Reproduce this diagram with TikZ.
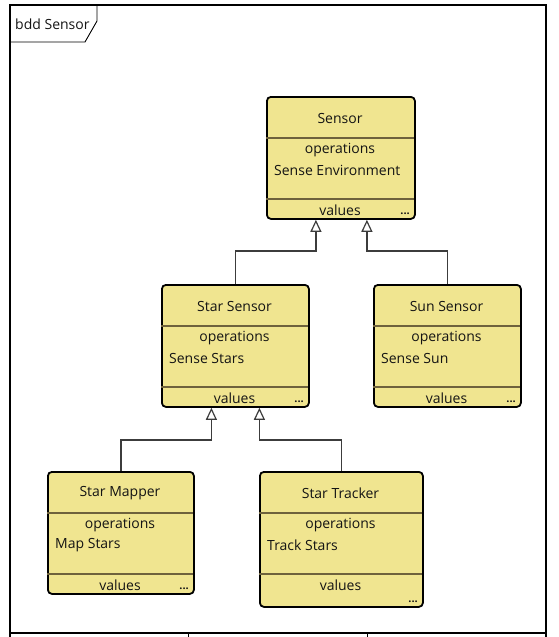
\documentclass[tikz,border=0pt]{standalone}
\usepackage{fontspec}
\setmainfont{Open Sans}
\usetikzlibrary{arrows.meta,calc}
\definecolor{blockfill}{RGB}{240,229,144}
\definecolor{sepcol}{RGB}{110,98,60}
\definecolor{linecol}{RGB}{60,60,60}
\definecolor{txtcol}{RGB}{20,20,20}
\tikzset{
  block/.style={draw=black, fill=blockfill, line width=1.8pt, rounded corners=4pt, anchor=north west, inner sep=0pt},
  sepline/.style={draw=sepcol, line width=1.3pt},
  lbl/.style={font=\fontsize{14}{16}\selectfont, text=txtcol, inner sep=0pt},
  dotsty/.style={font=\fontsize{11}{12}\selectfont\bfseries, text=txtcol, inner sep=0pt, anchor=south east},
  gen/.style={draw=linecol, line width=1.2pt, -{Triangle[open, width=11pt, length=12pt, fill=white]}},
  frameline/.style={draw=black, line width=2pt},
}
\newcommand{\umlblock}[7]{%
  \node[block, minimum width=#4pt, minimum height=#5pt] (#1) at (#2,#3) {};
  \node[lbl] (#1-t) at (#2+#4/2, #3+22) {#6};
  \draw[sepline] (#2,#3+42) -- (#2+#4,#3+42);
  \node[lbl] (#1-o) at (#2+#4/2, #3+54) {operations};
  \node[lbl, anchor=west] (#1-i) at (#2+8, #3+74) {#7};
  \draw[sepline] (#2,#3+103) -- (#2+#4,#3+103);
  \node[lbl] (#1-v) at (#2+#4/2, #3+114) {values};
  \node[dotsty] (#1-d) at (#2+#4-4, #3+#5-3) {...};
}
\begin{document}
\begin{tikzpicture}[x=1pt,y=-1pt]
\useasboundingbox (0,0) rectangle (558,637);
% frame
\draw[frameline] (10,637) -- (10,5) -- (546,5) -- (546,637);
\draw[frameline] (10,633) -- (546,633);
\draw[draw=black, line width=1pt] (188,633) -- (188,637) (367,633) -- (367,637);
% tab
\draw[draw=black, line width=0.9pt] (10,42) -- (85,42) -- (97,21) -- (97,5);
\node[lbl, anchor=west] (tab) at (15,24) {bdd Sensor};
% blocks
\umlblock{sensor}{266}{96}{148}{122}{Sensor}{Sense Environment}
\umlblock{starsensor}{161}{284}{147}{122}{Star Sensor}{Sense Stars}
\umlblock{sunsensor}{373}{284}{147}{122}{Sun Sensor}{Sense Sun}
\umlblock{starmapper}{47}{471}{146}{122}{Star Mapper}{Map Stars}
\umlblock{startracker}{259}{471}{163}{135}{Star Tracker}{Track Stars}
% generalizations
\draw[gen] (starsensor.north) -- ++(0,-33) -| ($(sensor.south)+(-25,0)$);
\draw[gen] (sunsensor.north) -- ++(0,-33) -| ($(sensor.south)+(26,0)$);
\draw[gen] (starmapper.north) -- ++(0,-31) -| ($(starsensor.south)+(-24,0)$);
\draw[gen] (startracker.north) -- ++(0,-31) -| ($(starsensor.south)+(24,0)$);
\end{tikzpicture}
\end{document}
